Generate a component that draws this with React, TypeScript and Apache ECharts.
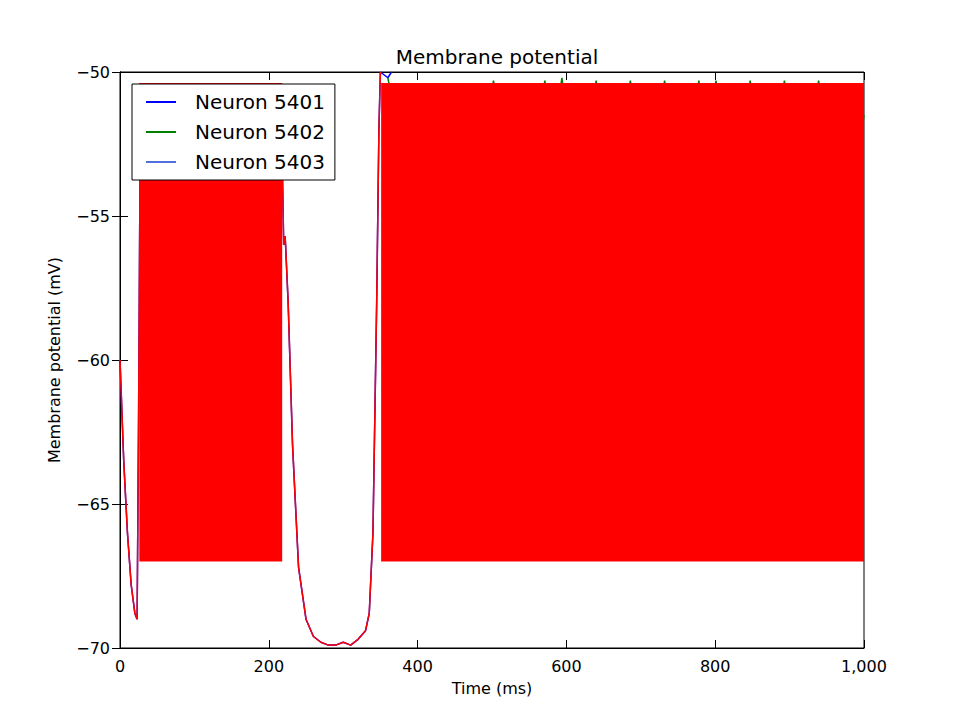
import React, { useEffect, useRef } from "react";
import * as echarts from "echarts";

const xTicks = [0, 200, 400, 600, 800, 1000];
const yTicks = [-70, -65, -60, -55, -50];
// common sub-threshold trajectory (ms, mV)
const trajT = [0, 5, 10, 15, 20, 23, 25, 27, 218, 220, 222, 226, 232, 240, 250, 260, 270, 280, 290, 300, 310, 320, 330, 335, 340, 345, 348, 350];
const trajV = [-60, -63.5, -66, -67.8, -68.8, -69, -62, -53, -53, -56, -55.7, -58, -63, -67.2, -69, -69.6, -69.8, -69.9, -69.9, -69.8, -69.9, -69.7, -69.4, -68.8, -66, -58, -52, -50];
// red dense spiking bands: start, end, top, bottom
const bandStart = [26, 351];
const bandEnd = [218, 1000];
const bandTop = -50.4;
const bandBottom = -67;
// green envelope above red
const greenT = [360, 370, 378, 388, 398, 410, 421, 433, 444, 456, 467, 479, 490, 502, 513, 525, 536, 548, 559, 571, 582, 594, 605, 617, 628, 640, 651, 663, 674, 686, 697, 709, 720, 732, 743, 755, 766, 778, 789, 801, 812, 824, 835, 847, 858, 870, 881, 893, 904, 916, 927, 939, 950, 962, 973, 985, 996, 1000];
const greenV = [-50.2, -51.5, -52.5, -50.6, -52.2, -50.5, -52.3, -50.6, -52.2, -50.4, -52.4, -50.5, -52.1, -50.3, -52.3, -50.5, -52.2, -50.4, -52.4, -50.3, -52.2, -50.2, -52.3, -50.5, -52.2, -50.3, -52.4, -50.4, -52.1, -50.3, -52.4, -50.5, -52.2, -50.3, -52.3, -50.4, -52.2, -50.3, -52.4, -50.3, -52.2, -50.4, -52.3, -50.3, -52.2, -50.4, -52.4, -50.3, -52.2, -50.4, -52.3, -50.3, -52.2, -50.4, -52.3, -50.5, -52.2, -51.5];

export default function App() {
  const ref = useRef<HTMLDivElement>(null);
  useEffect(() => {
    document.body.style.margin = "0";
    const chart = echarts.init(ref.current!, null, { renderer: "svg" });
    const traj = trajT.map((t, i) => [t, trajV[i]]);
    const bands = bandStart.map((s, i) => ({
      type: "line", name: "Neuron 5403", showSymbol: false, symbol: "none",
      data: [[s, bandTop], [bandEnd[i], bandTop]],
      lineStyle: { color: "#ff0000", width: 1 },
      areaStyle: { color: "#ff0000", opacity: 1, origin: bandBottom },
      z: 4,
    }));
    const axisCommon = {
      axisLine: { show: true, lineStyle: { color: "#000" } },
      axisTick: { inside: true, length: 8, lineStyle: { color: "#000" } },
      splitLine: { show: false },
    };
    chart.setOption({
      animation: false,
      title: { text: "Membrane potential", left: 492, top: 42, textAlign: "center", textStyle: { fontFamily: "DejaVu Sans", fontSize: 20, fontWeight: "normal", color: "#000" } },
      grid: { left: 120, right: 96, top: 72, bottom: 72, show: true, borderColor: "#000", borderWidth: 1 },
      legend: {
        left: 132, top: 84, orient: "vertical", backgroundColor: "#fff", borderColor: "#000", borderWidth: 1,
        padding: [8, 10, 8, 14], itemGap: 10, itemWidth: 30, itemHeight: 2,
        textStyle: { fontFamily: "DejaVu Sans", fontSize: 20, color: "#000", padding: [0, 0, 0, 14] },
        data: [
          { name: "Neuron 5401", icon: "rect" },
          { name: "Neuron 5402", icon: "rect" },
          { name: "Neuron 5403", icon: "rect" },
        ],
        z: 20,
      },
      xAxis: [
        { type: "value", min: 0, max: 1000, interval: 200, name: "Time (ms)", nameLocation: "middle", nameGap: 32,
          nameTextStyle: { fontFamily: "DejaVu Sans", fontSize: 16, color: "#000" },
          axisLabel: { fontFamily: "DejaVu Sans", fontSize: 16, color: "#000", margin: 10 }, ...axisCommon },
        { type: "value", position: "top", min: 0, max: 1000, interval: 200, axisLabel: { show: false }, ...axisCommon },
      ],
      yAxis: [
        { type: "value", min: -70, max: -50, interval: 5, name: "Membrane potential (mV)", nameLocation: "middle", nameGap: 58,
          nameTextStyle: { fontFamily: "DejaVu Sans", fontSize: 16, color: "#000" },
          axisLabel: { fontFamily: "DejaVu Sans", fontSize: 16, color: "#000", margin: 10, formatter: (v: number) => String(v).replace("-", "\u2212") }, ...axisCommon },
        { type: "value", position: "right", min: -70, max: -50, interval: 5, axisLabel: { show: false }, ...axisCommon },
      ],
      series: [
        { type: "line", name: "Neuron 5401", symbol: "none", data: traj.concat([[360, -50.2], [365, -50]]), lineStyle: { color: "#0000ff", width: 1.5 }, itemStyle: { color: "#0000ff" }, z: 2 },
        { type: "line", name: "Neuron 5402", symbol: "none", data: greenT.map((t, i) => [t, greenV[i]]), lineStyle: { color: "#008000", width: 1.5 }, itemStyle: { color: "#008000" }, z: 3 },
        ...bands,
        { type: "line", name: "Neuron 5403", symbol: "none", data: traj, lineStyle: { color: "#ff0000", width: 1.5 }, itemStyle: { color: "#ff0000" }, z: 5 },
      ],
    });
    return () => chart.dispose();
  }, []);
  return <div ref={ref} style={{ width: 960, height: 720 }} />;
}
